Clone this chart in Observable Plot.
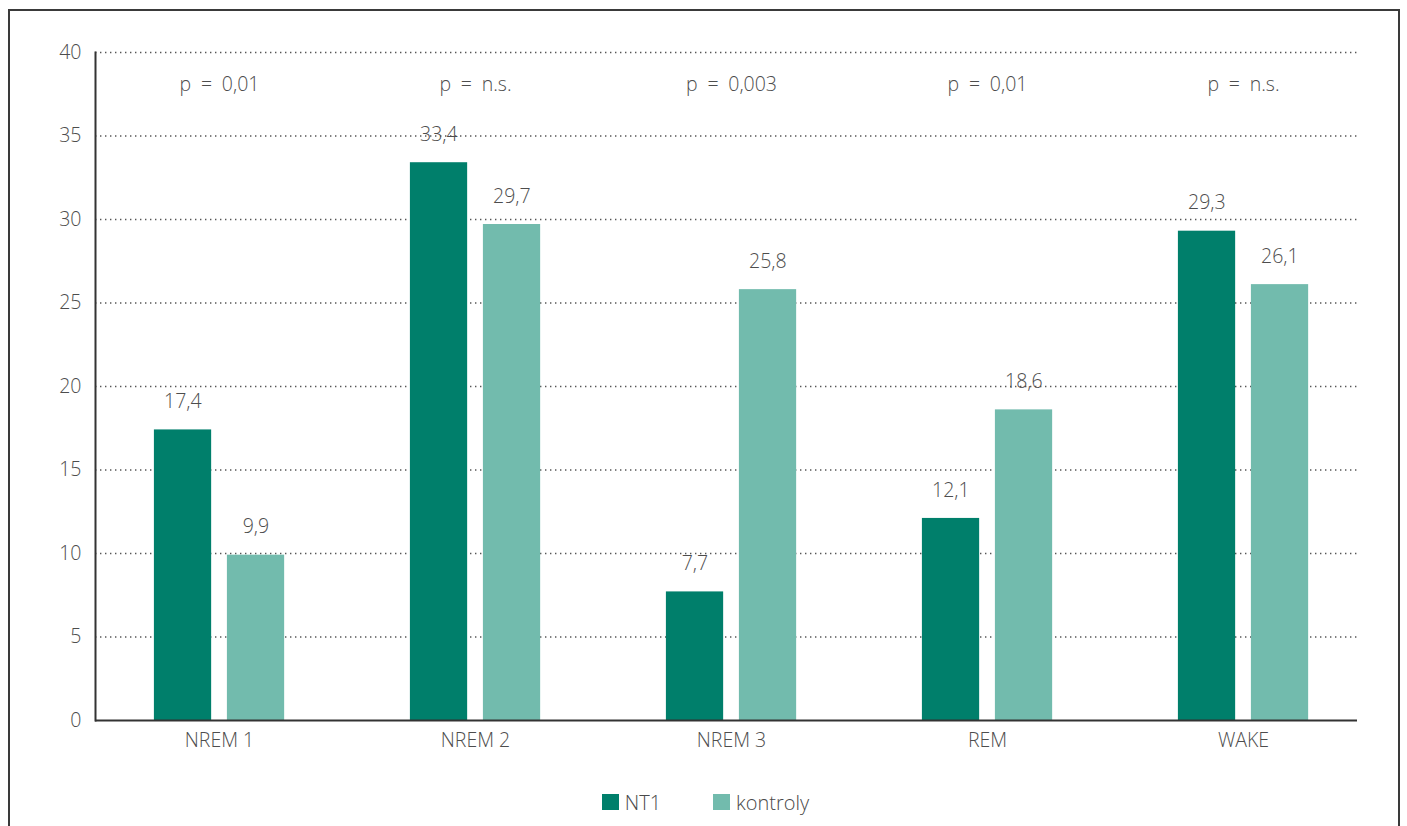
<!DOCTYPE html>
<html>
<head>
<meta charset="utf-8">
<script src="https://cdn.jsdelivr.net/npm/d3@7"></script>
<script src="https://cdn.jsdelivr.net/npm/@observablehq/plot@0.6"></script>
<style>
  html, body { margin: 0; padding: 0; background: #fff; overflow: hidden; width: 1407px; height: 826px; }
  body { font-family: "Open Sans", "Segoe UI", sans-serif; color: #4a4a4a; position: relative; }
  #frame { position: absolute; left: 8px; top: 9px; width: 1392px; height: 900px; border: 2px solid #3a3a3a; box-sizing: border-box; pointer-events: none; }
  #chart svg { display: block; }
  #legend { display: flex; justify-content: center; align-items: center; height: 34px; padding-left: 4px; font-size: 20px; font-weight: 300; color: #4a4a4a; }
  .item { display: flex; align-items: center; margin: 0 26px; }
  .sw { width: 17px; height: 16px; margin-right: 6px; }
</style>
</head>
<body>
<div id="chart"></div>
<div id="legend"></div>
<div id="frame"></div>
<script>
const categories = ["NREM 1", "NREM 2", "NREM 3", "REM", "WAKE"];
const series = ["NT1", "kontroly"];
const nt1 = [17.4, 33.4, 7.7, 12.1, 29.3];
const kontroly = [9.9, 29.7, 25.8, 18.6, 26.1];
const pValues = ["p = 0,01", "p = n.s.", "p = 0,003", "p = 0,01", "p = n.s."];
const yTicks = [0, 5, 10, 15, 20, 25, 30, 35, 40];
const colors = ["#007f6b", "#72bbad"];

const rows = [];
categories.forEach((c, i) => {
  rows.push({cat: c, series: series[0], value: nt1[i]});
  rows.push({cat: c, series: series[1], value: kontroly[i]});
});
const pRows = categories.map((c, i) => ({cat: c, label: pValues[i].replace(/ /g, "\u2002")}));
const fmt = v => v.toFixed(1).replace(".", ",");

const step = 256.75;
const W = 1407, H = 785;
const textColor = "#4d4d4d";
const fs = 19.5;

const barOpts = (s) => {
  const isA = s === series[0];
  return {
    x: "cat", y: "value", fill: "series",
    insetLeft: isA ? 62.9 : 135.9,
    insetRight: isA ? 135.85 : 62.85
  };
};

const plot = Plot.plot({
  width: W,
  height: H,
  marginLeft: 95,
  marginRight: 50,
  marginTop: 52,
  marginBottom: 65,
  style: {fontFamily: "'Open Sans', sans-serif", fontSize: fs + "px", color: textColor, background: "transparent"},
  x: {type: "band", domain: categories, range: [89.6, 89.6 + 5 * step], padding: 0, label: null},
  y: {domain: [0, 40], ticks: yTicks, label: null},
  color: {domain: series, range: colors},
  marks: [
    Plot.gridY(yTicks.filter(t => t > 0), {stroke: "#555", strokeOpacity: 1, strokeWidth: 1.4, strokeDasharray: "1.4 3.6"}),
    Plot.barY(rows.filter(d => d.series === series[0]), barOpts(series[0])),
    Plot.barY(rows.filter(d => d.series === series[1]), barOpts(series[1])),
    Plot.text(rows.filter(d => d.series === series[0]), {x: "cat", y: "value", text: d => fmt(d.value), dx: -36.6, dy: -28, fill: textColor, fontSize: fs, fontWeight: 300}),
    Plot.text(rows.filter(d => d.series === series[1]), {x: "cat", y: "value", text: d => fmt(d.value), dx: 36.4, dy: -28, fill: textColor, fontSize: fs, fontWeight: 300}),
    Plot.text(pRows, {x: "cat", y: 40, text: "label", dy: 32, fill: textColor, fontSize: fs, fontWeight: 300}),
    Plot.frame({anchor: "left", stroke: "#333", strokeWidth: 2}),
    Plot.ruleY([0], {stroke: "#333", strokeWidth: 2}),
    Plot.axisY({ticks: yTicks, tickSize: 0, tickPadding: 14, fontSize: fs, fontWeight: 300, fill: textColor, label: null}),
    Plot.axisX({tickSize: 0, tickPadding: 13, fontSize: fs, fontWeight: 300, fill: textColor, label: null})
  ]
});
document.getElementById("chart").appendChild(plot);

const legend = document.getElementById("legend");
series.forEach((s, i) => {
  const it = document.createElement("div");
  it.className = "item";
  const sw = document.createElement("span");
  sw.className = "sw";
  sw.style.background = colors[i];
  const tx = document.createElement("span");
  tx.textContent = s;
  it.appendChild(sw);
  it.appendChild(tx);
  legend.appendChild(it);
});
</script>
</body>
</html>
